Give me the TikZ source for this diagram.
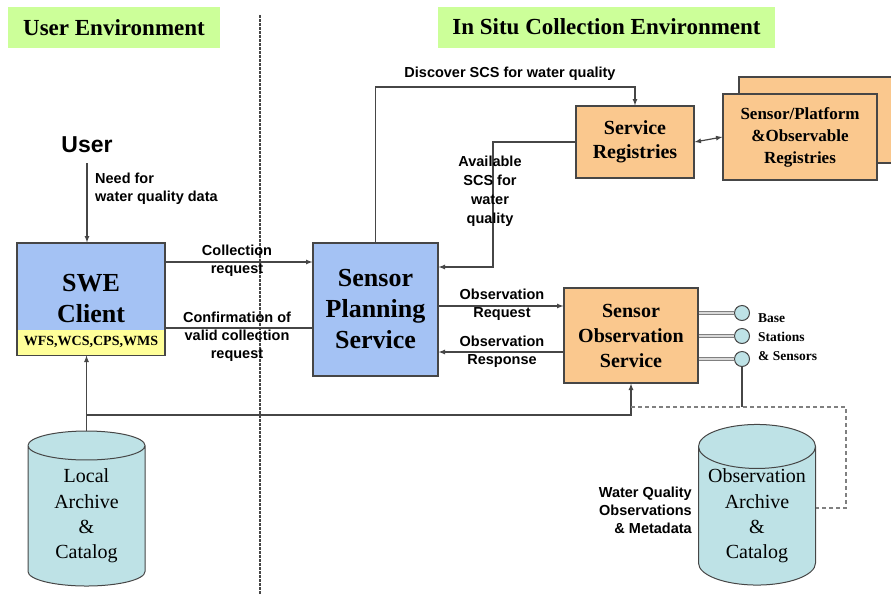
\documentclass[tikz,border=0pt]{standalone}
\usepackage{fontspec}
\setmainfont{Liberation Serif}
\setsansfont{Liberation Sans}
\usetikzlibrary{arrows,%
                shapes,positioning}

\definecolor{envgreen}{RGB}{204,255,153}
\definecolor{planblue}{RGB}{164,194,244}
\definecolor{obsorange}{RGB}{250,200,142}
\definecolor{archcyan}{RGB}{190,226,230}
\definecolor{stripyellow}{RGB}{255,255,153}
\definecolor{linegray}{RGB}{70,70,70}

\tikzset{
  envbox/.style={fill=envgreen, inner sep=0pt, minimum height=41pt,
                 font=\fontsize{23}{27}\selectfont\bfseries},
  svcbox/.style={draw=linegray, line width=1.2pt, align=center, inner sep=0pt},
  bluebox/.style={svcbox, fill=planblue, font=\fontsize{26}{31}\selectfont\bfseries},
  orangebox/.style={svcbox, fill=obsorange, font=\fontsize{20}{25}\selectfont\bfseries},
  archive/.style={cylinder, shape border rotate=90, aspect=0.45, draw=linegray,
                  line width=1pt, fill=archcyan, minimum width=117pt,
                  minimum height=155pt, align=center, inner sep=0pt,
                  font=\fontsize{20}{25.3}\selectfont},
  station/.style={circle, draw=linegray, line width=1pt, fill=archcyan,
                  minimum size=15pt, inner sep=0pt},
  flowlabel/.style={align=center, inner sep=0pt,
                    font=\sffamily\bfseries\fontsize{14.5}{18}\selectfont},
  flow/.style={draw=linegray, line width=1.2pt},
  feed/.style={draw=gray, double=gray!30, double distance=1.6pt, line width=1pt}
}

\begin{document}
\begin{tikzpicture}[x=1pt, y=-1pt, >=latex]
\useasboundingbox (0,0) rectangle (891,595);

% the two environments
\node[envbox, minimum width=212pt] (userenv) at (114,27.5) {User Environment};
\node[envbox, minimum width=337pt] (situenv) at (606.5,27) {In Situ Collection Environment};
\coordinate (divtop) at (260,15);
\coordinate (divbot) at (260,595);
\draw[linegray, line width=1.3pt, dash pattern=on 2.5pt off 1.5pt] (divtop) -- (divbot);

% user side
\node[font=\sffamily\bfseries\fontsize{23}{27}\selectfont, inner sep=0pt] (user) at (87,145) {User};
\node[bluebox, minimum width=148pt, minimum height=112pt] (swe) at (91,299) {SWE\\Client};
\node[fill=stripyellow, minimum width=146pt, minimum height=25pt, inner sep=0pt,
      font=\bfseries\fontsize{14}{16}\selectfont, above=0.8pt of swe.south] (wfs) {WFS,WCS,CPS,WMS};
\node[archive] (local) at (86.5,516) {Local\\Archive\\\&\\Catalog};

% in situ side
\node[bluebox, minimum width=125pt, minimum height=133pt] (sps) at (375.5,309.5) {Sensor\\Planning\\Service};
\node[orangebox, minimum width=118pt, minimum height=72pt,
      font=\fontsize{20}{24}\selectfont\bfseries] (sr) at (635,142) {Service\\Registries};
\node[orangebox, minimum width=154pt, minimum height=86pt] (sprback) at (816,120) {};
\node[orangebox, minimum width=154pt, minimum height=86pt,
      font=\fontsize{17}{22}\selectfont\bfseries] (spr) at (800,137) {Sensor/Platform\\\&Observable\\Registries};
\node[orangebox, minimum width=134pt, minimum height=95pt] (sos) at (631,335.5) {Sensor\\Observation\\Service};
\foreach \n/\y in {1/313,2/336,3/359}{
  \node[station] (st\n) at (742,\y) {};
  \draw[feed] (sos.east |- st\n) -- (st\n);
}
\node[anchor=west, align=left, inner sep=0pt,
      font=\bfseries\fontsize{13.5}{19}\selectfont] (stlbl) at (758,337) {Base\\Stations\\\& Sensors};
\node[archive] (obs) at (757,516) {Observation\\Archive\\\&\\Catalog};

% requests and responses
\draw[flow,->] ([yshift=-10pt]user.south) -- (user.south |- swe.north);
\node[flowlabel, align=left, anchor=west] (needlbl) at (95,189) {Need for\\water quality data};

\draw[flow,->] (swe.east |- 0,262) -- (sps.west |- 0,262);
\node[flowlabel] (colllbl) at (237,261) {Collection\\request};
\draw[flow] (sps.west |- 0,328) -- (swe.east |- 0,328);
\node[flowlabel] (conflbl) at (237,337) {Confirmation of\\valid collection\\request};

\draw[flow,->] (sps.north) |- (sr.north |- 0,87) -- (sr.north);
\node[flowlabel] (disclbl) at (510,74) {Discover SCS for water quality};
\draw[flow,->] (sr.west) -- (sr.west -| 493,0) |- (sps.east |- 0,267);
\node[flowlabel, font=\sffamily\bfseries\fontsize{14.5}{19}\selectfont] (availlbl) at (490,191) {Available\\SCS for\\water\\quality};
\draw[flow,<->] (sr.east) -- (spr.west);

\draw[flow,->] (sps.east |- 0,306) -- (sos.west |- 0,306);
\node[flowlabel] (reqlbl) at (502,305) {Observation\\Request};
\draw[flow,->] (sos.west |- 0,352) -- (sps.east |- 0,352);
\node[flowlabel] (resplbl) at (502,352) {Observation\\Response};

% archives
\coordinate (busleft) at (local.north |- 0,415);
\draw[flow,->] (local.north) -- (local.north |- swe.south);
\draw[flow,->] (busleft) -| (sos.south);
\coordinate (obsbus) at (sos.south |- 0,407);
\coordinate (obscorner) at (846,407);
\draw[flow, draw=gray, line width=1.1pt, dash pattern=on 4pt off 3pt] (obsbus) -- (obscorner) |- ([yshift=8pt]obs.east);
\draw[flow] (st3) -- (st3 |- obsbus);
\node[flowlabel, align=right, anchor=east] (obslbl) at (692,510) {Water Quality\\Observations\\\& Metadata};
\end{tikzpicture}
\end{document}
